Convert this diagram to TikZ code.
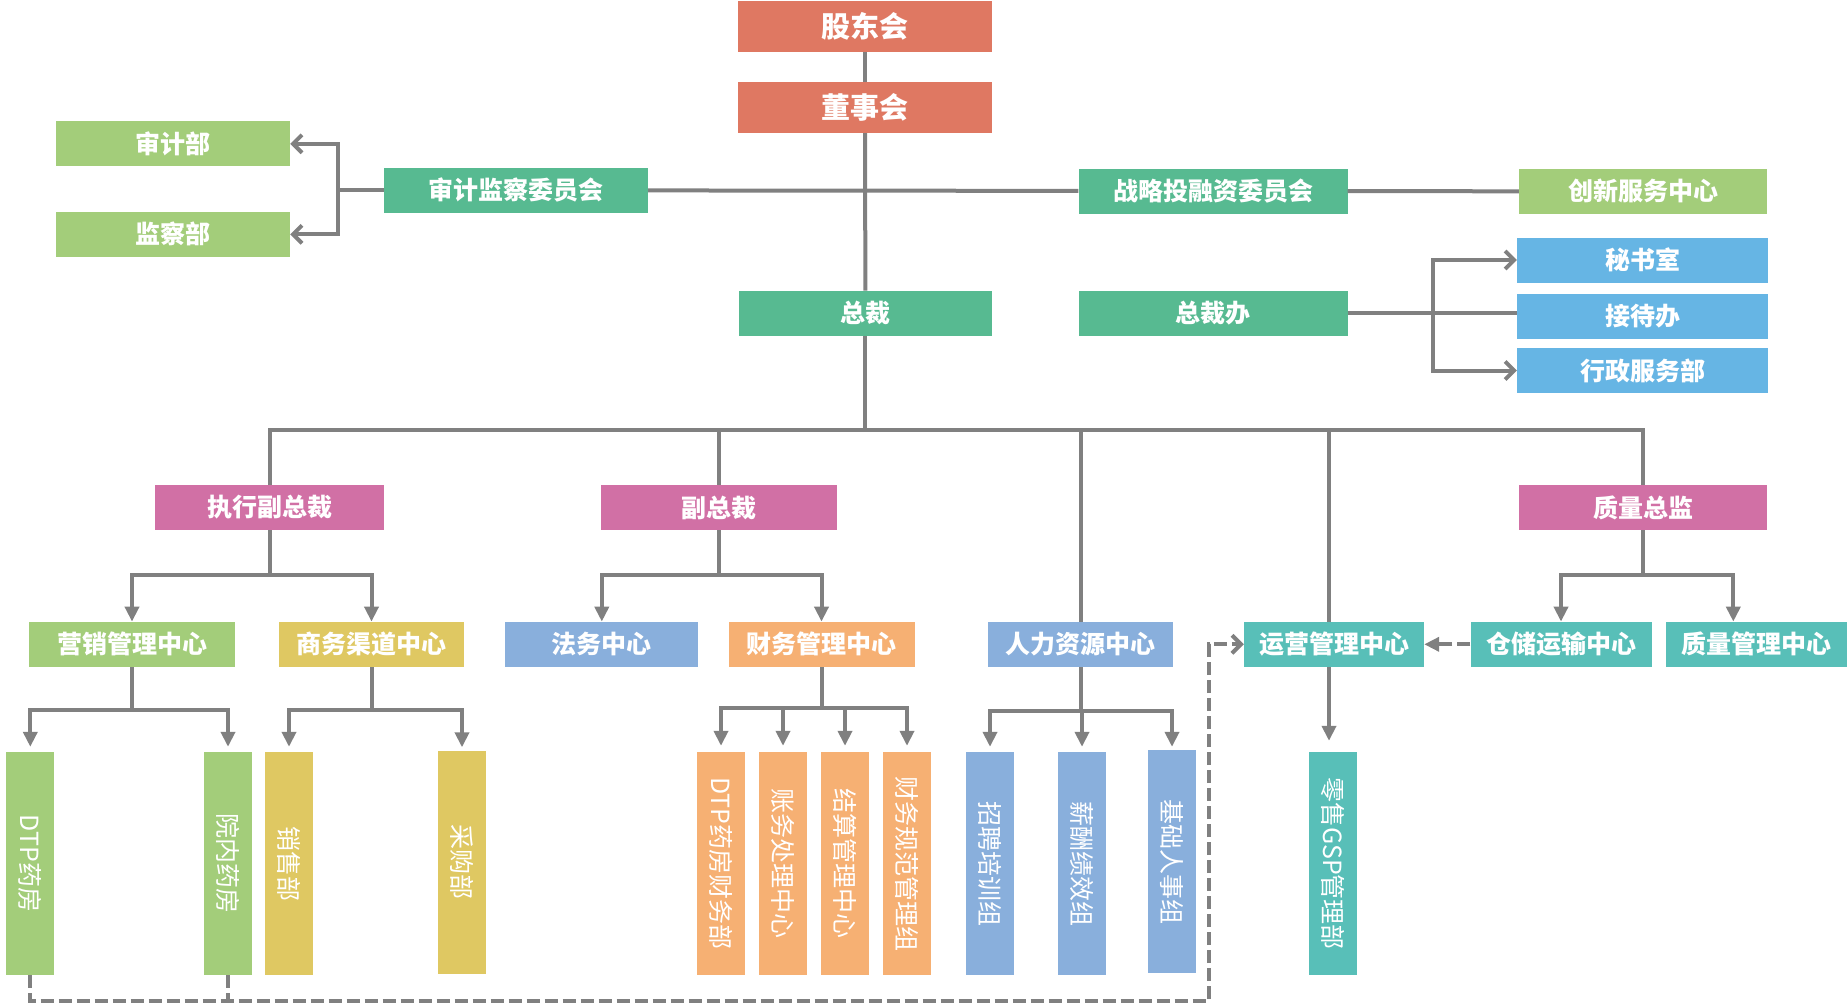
\documentclass[tikz,border=0pt]{standalone}
\usepackage{fontspec}
\usepackage{xcolor}
\usetikzlibrary{arrows.meta}
\newfontfamily\cjk{Noto Sans CJK SC}

\definecolor{cSalmon}{HTML}{DF7862}
\definecolor{cGreen}{HTML}{57BA91}
\definecolor{cLime}{HTML}{A3CD7A}
\definecolor{cSky}{HTML}{66B5E4}
\definecolor{cPink}{HTML}{D170A5}
\definecolor{cYellow}{HTML}{DFC862}
\definecolor{cBlue}{HTML}{89AFDC}
\definecolor{cOrange}{HTML}{F6B073}
\definecolor{cTeal}{HTML}{58BFB8}
\definecolor{cLine}{HTML}{808080}

\begin{document}
\begin{tikzpicture}[x=1pt,y=-1pt]
    \tikzstyle{H}=[rectangle,inner sep=0pt,text=white,minimum height=45pt,font=\cjk\bfseries\fontsize{25}{25}\selectfont]
    \tikzstyle{V}=[rectangle,inner sep=0pt,rotate=-90,minimum width=223pt,minimum height=48pt,text=white,font=\cjk\fontsize{25}{25}\selectfont]
    \tikzstyle{L}=[draw=cLine,line width=4pt]
    \tikzstyle{D}=[draw=cLine,line width=4pt,dash pattern=on 13pt off 5pt]
    \tikzstyle{A}=[-{Triangle[length=15pt,width=14pt]}]
    \tikzstyle{B}=[-{Straight Barb[length=9pt,width=18pt]}]

    \useasboundingbox (0,0) rectangle (1847,1005);

    % Board
    \node [H,fill=cSalmon,minimum width=254pt,minimum height=51pt,font=\cjk\bfseries\fontsize{29}{29}\selectfont] (gd) at (865,26.5) {股东会};
    \node [H,fill=cSalmon,minimum width=254pt,minimum height=51pt,font=\cjk\bfseries\fontsize{29}{29}\selectfont] (dsh) at (865,107.3) {董事会};

    % Committees
    \node [H,fill=cLime,minimum width=234pt] (sjb) at (173,143.8) {审计部};
    \node [H,fill=cLime,minimum width=234pt] (jcb) at (173,234.3) {监察部};
    \node [H,fill=cGreen,minimum width=264pt] (sjjc) at (516,190.3) {审计监察委员会};
    \node [H,fill=cGreen,minimum width=269pt] (zltr) at (1213,191) {战略投融资委员会};
    \node [H,fill=cLime,minimum width=248pt] (cxfw) at (1643,191.4) {创新服务中心};

    % President
    \node [H,fill=cGreen,minimum width=253pt] (zc) at (865.4,313.3) {总裁};
    \node [H,fill=cGreen,minimum width=269pt] (zcb) at (1213,313.3) {总裁办};
    \node [H,fill=cSky,minimum width=251pt] (msj) at (1642.6,260) {秘书室};
    \node [H,fill=cSky,minimum width=251pt] (jdb) at (1642.6,316) {接待办};
    \node [H,fill=cSky,minimum width=251pt] (xzfw) at (1642.6,370.5) {行政服务部};

    % Vice presidents
    \node [H,fill=cPink,minimum width=229pt] (zxfzc) at (269.7,507.5) {执行副总裁};
    \node [H,fill=cPink,minimum width=236pt] (fzc) at (719,507.5) {副总裁};
    \node [H,fill=cPink,minimum width=248pt] (zlzj) at (1643,507.5) {质量总监};

    % Centres
    \node [H,fill=cLime,minimum width=206pt] (yxgl) at (132,644.3) {营销管理中心};
    \node [H,fill=cYellow,minimum width=185pt] (swqd) at (371.5,644.3) {商务渠道中心};
    \node [H,fill=cBlue,minimum width=193pt] (fwzx) at (601.8,644.3) {法务中心};
    \node [H,fill=cOrange,minimum width=186pt] (cwgl) at (821.5,644.3) {财务管理中心};
    \node [H,fill=cBlue,minimum width=185pt] (rlzy) at (1080.5,644.3) {人力资源中心};
    \node [H,fill=cTeal,minimum width=180pt] (yygl) at (1334,644.3) {运营管理中心};
    \node [H,fill=cTeal,minimum width=181pt] (ccys) at (1561,644.3) {仓储运输中心};
    \node [H,fill=cTeal,minimum width=181pt] (zlgl) at (1756.3,644.3) {质量管理中心};

    % Departments
    \node [V,fill=cLime] (dtp) at (30.3,863.5) {DTP药房};
    \node [V,fill=cLime] (ynyf) at (228,863.5) {院内药房};
    \node [V,fill=cYellow] (xsb) at (289,863.5) {销售部};
    \node [V,fill=cYellow] (cgb) at (462,862) {采购部};
    \node [V,fill=cOrange] (dtpcw) at (721,863.5) {DTP药房财务部};
    \node [V,fill=cOrange] (zwcl) at (783,863.5) {账务处理中心};
    \node [V,fill=cOrange] (jsgl) at (845,863.5) {结算管理中心};
    \node [V,fill=cOrange] (cwgf) at (907,863.5) {财务规范管理组};
    \node [V,fill=cBlue] (zppx) at (990,863.5) {招聘培训组};
    \node [V,fill=cBlue] (xcjx) at (1082,863.5) {薪酬绩效组};
    \node [V,fill=cBlue] (jcrs) at (1172,861.5) {基础人事组};
    \node [V,fill=cTeal] (gsp) at (1333,863.5) {零售GSP管理部};

    % Trunk
    \draw [L] (gd) -- (dsh);
    \draw [L] (dsh) -- (zc);
    \draw [L] (sjjc) -- (zltr);
    \draw [L] (zltr) -- (cxfw);
    \draw [L] (zc.south) -- ++(0,94.2) coordinate (bus);
    \draw [L] (zxfzc.north) |- (bus) -| (zlzj.north);
    \draw [L] (fzc.north) |- (bus);
    \draw [L] (rlzy.north) |- (bus);
    \draw [L] ([xshift=-5pt]yygl.north) |- (bus);

    % Audit
    \draw [L] (sjjc.west) -- ++(-46,0) coordinate (ja);
    \draw [L,B] (ja) |- (sjb);
    \draw [L,B] (ja) |- (jcb);

    % President office
    \draw [L] (zcb.east) -- ++(85,0) coordinate (jb);
    \draw [L,B] (jb) |- (msj);
    \draw [L] (jb) -- (jb -| jdb.west);
    \draw [L,B] (jb) |- (xzfw);

    % Vice presidents
    \draw [L] (zxfzc.south) -- ++(0,45) coordinate (j1);
    \draw [L,A] (j1) -| (yxgl);
    \draw [L,A] (j1) -| (swqd);
    \draw [L] (fzc.south) -- ++(0,45) coordinate (j2);
    \draw [L,A] (j2) -| (fwzx);
    \draw [L,A] (j2) -| (cwgl);
    \draw [L] (zlzj.south) -- ++(0,45) coordinate (j3);
    \draw [L,A] (j3) -| (ccys);
    \draw [L,A] (j3) -| ([xshift=-23pt]zlgl.north);

    % Centres (rotated nodes: west is on top, east at the bottom)
    \draw [L] (yxgl.south) -- ++(0,42.5) coordinate (k1);
    \draw [L,A,shorten >=5pt] (k1) -| (dtp);
    \draw [L,A,shorten >=5pt] (k1) -| (ynyf);
    \draw [L] (swqd.south) -- ++(0,42.5) coordinate (k2);
    \draw [L,A,shorten >=5pt] (k2) -| (xsb);
    \draw [L,A,shorten >=3pt] (k2) -| (cgb);
    \draw [L] (cwgl.south) -- ++(0,40.5) coordinate (k3);
    \draw [L,A,shorten >=6pt] (k3) -| (dtpcw);
    \draw [L,A,shorten >=6pt] (k3) -| (zwcl);
    \draw [L,A,shorten >=6pt] (k3) -| (jsgl);
    \draw [L,A,shorten >=6pt] (k3) -| (cwgf);
    \draw [L] (rlzy.south) -- ++(0,43.5) coordinate (k4);
    \draw [L,A,shorten >=5pt] (k4) -| (zppx);
    \draw [L,A,shorten >=5pt] (k4) -| (xcjx);
    \draw [L,A,shorten >=3pt] (k4) -| (jcrs);
    \draw [L,A,shorten >=11pt] ([xshift=-5pt]yygl.south) -- ([xshift=-5pt]yygl.south |- gsp.west);

    % Dashed links
    \coordinate (c1) at (1208.5,1001);
    \draw [D,B] (dtp.east) |- (c1) |- (yygl.west);
    \draw [D] (ynyf.east) -- ++(0,26);
    \draw [D,A] (ccys) -- (yygl);
\end{tikzpicture}
\end{document}
